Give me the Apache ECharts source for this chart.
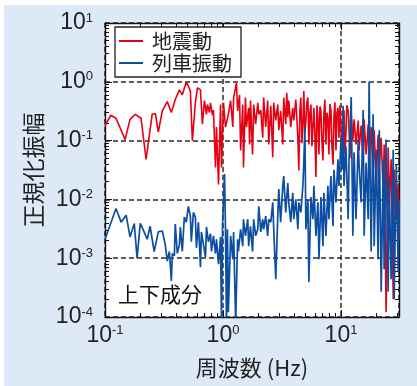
<!DOCTYPE html>
<html>
<head>
<meta charset="utf-8">
<script src="https://cdn.jsdelivr.net/npm/echarts@6/dist/echarts.min.js"></script>
<style>
  html, body { margin: 0; padding: 0; background: #fff; }
  #wrap { position: relative; width: 417px; height: 386px; }
  #bg { position: absolute; left: 4px; top: 5px; right: 0; bottom: 0; background: #dde9f6; }
  #chart { position: absolute; left: 0; top: 0; width: 417px; height: 386px; }
</style>
</head>
<body>
<div id="wrap"><div id="bg"></div><div id="chart"></div></div>
<script>
// 地震動 (earthquake) spectrum
const quakeFreq = [
  0.100, 0.112, 0.124, 0.148, 0.163, 0.180, 0.202, 0.223, 0.251, 0.267,
  0.283, 0.306, 0.337, 0.365, 0.394, 0.427, 0.452, 0.489, 0.529, 0.550,
  0.583, 0.607, 0.644, 0.669, 0.696, 0.724, 0.738, 0.768, 0.783, 0.814,
  0.830, 0.863, 0.881, 0.916, 0.953, 0.971, 1.01, 1.05, 1.11, 1.16,
  1.21, 1.23, 1.30, 1.33, 1.38, 1.41, 1.47, 1.49, 1.55, 1.58,
  1.65, 1.68, 1.71, 1.78, 1.82, 1.89, 1.97, 2.01, 2.09, 2.17,
  2.21, 2.30, 2.39, 2.44, 2.54, 2.64, 2.69, 2.80, 2.91, 2.97,
  3.08, 3.21, 3.27, 3.40, 3.47, 3.54, 3.61, 3.75, 3.90, 3.98,
  4.14, 4.31, 4.39, 4.48,
  4.57, 4.66, 4.75, 4.84, 4.94, 5.04, 5.14, 5.24, 5.34, 5.45,
  5.56, 5.67, 5.78, 5.89, 6.01, 6.13, 6.25, 6.37, 6.50, 6.63,
  6.76, 6.90, 7.03, 7.16, 7.30, 7.45, 7.60, 7.74, 7.90, 8.06,
  8.22, 8.38, 8.55, 8.71, 8.88, 9.06, 9.24, 9.42, 9.61, 9.80,
  10.0, 10.2, 10.4, 10.6, 10.8, 11.0, 11.2, 11.5, 11.7, 11.9,
  12.2, 12.6, 12.9, 13.4, 14.0, 14.2,
  14.8, 15.4, 15.7, 16.3, 17.0, 17.3, 18.0, 18.7, 19.1, 19.9,
  20.6, 21.1, 21.9, 22.8, 23.2, 24.1, 25.1, 25.6, 26.6, 27.7,
  28.2, 29.4, 30.5, 31.2
];
const quakeAmp = [
  0.18, 0.27, 0.24, 0.104, 0.23, 0.28, 0.24, 0.048, 0.28, 0.29,
  0.14, 0.32, 0.46, 0.30, 0.50, 0.73, 0.60, 1.0, 0.70, 0.10,
  0.44, 0.79, 0.73, 0.19, 0.48, 0.28, 0.41, 0.30, 0.44, 0.27,
  0.33, 0.035, 0.17, 0.018, 0.41, 0.035, 0.44, 0.17, 0.28, 0.48,
  0.17, 0.54, 0.96, 0.32, 0.60, 0.068, 0.41, 0.035, 0.54, 0.17,
  0.36, 0.086, 0.48, 0.058, 0.41, 0.19, 0.44, 0.28, 0.33, 0.112,
  0.54, 0.17, 0.48, 0.086, 0.39, 0.052, 0.44, 0.22, 0.41, 0.15,
  0.32, 0.086, 0.54, 0.19, 0.65, 0.25, 0.48, 0.17, 0.36, 0.22,
  0.50, 0.112, 0.031, 0.32,
  0.54, 0.09, 0.17, 0.70, 0.13, 0.22, 0.45, 0.54, 0.086, 0.30,
  0.41, 0.08, 0.17, 0.36, 0.12, 0.024, 0.40, 0.25, 0.058, 0.38,
  0.32, 0.09, 0.046, 0.28, 0.50, 0.086, 0.30, 0.25, 0.058, 0.42,
  0.32, 0.08, 0.039, 0.25, 0.45, 0.068, 0.30, 0.36, 0.112, 0.40,
  0.41, 0.07, 0.17, 0.33, 0.06, 0.126, 0.40, 0.32, 0.15, 0.05,
  0.28, 0.10, 0.23, 0.086, 0.22, 0.068,
  0.18, 0.046, 0.23, 0.058, 0.19, 0.039, 0.17, 0.024, 0.15, 0.018,
  0.126, 0.039, 0.112, 0.012, 0.086, 0.00012, 0.076, 0.0082, 0.048, 0.0002,
  0.032, 0.0046, 0.018, 0.0021
];

// 列車振動 (train) spectrum
const trainFreq = [
  0.100, 0.124, 0.137, 0.151, 0.163, 0.177, 0.187, 0.199, 0.210, 0.228,
  0.241, 0.261, 0.283, 0.306, 0.324, 0.337, 0.351, 0.365, 0.372, 0.387,
  0.394, 0.410, 0.427, 0.435, 0.452, 0.470, 0.489, 0.508, 0.529, 0.539,
  0.561, 0.583, 0.595, 0.619, 0.644, 0.656, 0.682, 0.710, 0.724, 0.753,
  0.783, 0.798, 0.830, 0.863, 0.881, 0.916, 0.953, 0.971, 0.991, 1.03,
  1.05, 1.07, 1.09, 1.11, 1.16, 1.21, 1.23, 1.28, 1.33, 1.35,
  1.41, 1.47, 1.49, 1.55, 1.62, 1.65, 1.71, 1.78, 1.82, 1.89,
  1.97, 2.01, 2.09, 2.17, 2.21, 2.30, 2.39, 2.44, 2.54, 2.64,
  2.69, 2.80, 2.91, 2.97, 3.08, 3.21, 3.27, 3.40, 3.54, 3.61,
  3.75, 3.90, 3.98, 4.14, 4.31, 4.39, 4.57, 4.75, 4.84, 4.94,
  5.04, 5.24, 5.34, 5.56, 5.78, 5.89, 6.13, 6.37, 6.50, 6.76,
  7.03, 7.16, 7.45, 7.74, 7.90, 8.22, 8.55, 8.71, 9.06, 9.42,
  9.61, 10.0, 10.2, 10.4, 10.6, 11.0, 11.5, 11.7, 12.2, 12.6,
  12.9, 13.4, 14.0, 14.2, 14.8, 15.4, 15.7, 16.3, 17.0, 17.3,
  17.7, 18.0, 18.7, 19.1, 19.9, 20.6, 21.1, 21.9, 22.8, 23.2,
  24.1, 25.1, 25.6, 26.6, 27.7, 28.2, 29.4, 30.5, 31.2
];
const trainAmp = [
  0.0021, 0.0070, 0.0041, 0.0054, 0.0023, 0.0039, 0.0010, 0.0039, 0.0031, 0.0021,
  0.0035, 0.0013, 0.0028, 0.0029, 0.0017, 0.00089, 0.0013, 0.00041, 0.0012, 0.0011,
  0.0038, 0.0012, 0.0017, 0.0034, 0.0013, 0.0050, 0.0041, 0.0076, 0.0052, 0.0019,
  0.0060, 0.0050, 0.0015, 0.0041, 0.00070, 0.0028, 0.0026, 0.00104, 0.0034, 0.0019,
  0.0026, 0.0013, 0.0024, 0.0012, 0.0021, 0.00079, 0.0023, 0.00008, 0.0038, 0.027,
  0.0029, 0.00008, 0.0031, 0.00012, 0.0024, 0.00096, 0.0028, 0.00008, 0.0021, 0.0013,
  0.0031, 0.0016, 0.0046, 0.0024, 0.0046, 0.0016, 0.0035, 0.0013, 0.0046, 0.0024,
  0.0031, 0.0076, 0.0028, 0.0046, 0.0031, 0.0052, 0.0024, 0.0046, 0.0041, 0.0089,
  0.0031, 0.00044, 0.0052, 0.015, 0.0041, 0.017, 0.025, 0.0060, 0.019, 0.0089,
  0.0041, 0.013, 0.0046, 0.010, 0.0031, 0.0089, 0.0060, 0.017, 0.042, 0.17,
  0.0031, 0.010, 0.00039, 0.011, 0.0046, 0.017, 0.0024, 0.0089, 0.00096, 0.011,
  0.0016, 0.013, 0.0024, 0.017, 0.0046, 0.025, 0.0035, 0.032, 0.0089, 0.048,
  0.017, 0.104, 0.032, 0.39, 0.017, 0.080, 0.0046, 0.048, 0.55, 0.0024,
  0.063, 0.0046, 0.104, 0.042, 0.0089, 0.33, 0.0024, 0.042, 0.0046, 1.0,
  0.017, 0.0013, 0.28, 0.0016, 0.070, 0.00096, 0.15, 0.00027, 0.048, 0.00065,
  0.104, 0.00027, 0.022, 0.00044, 0.070, 0.00020, 0.039, 0.00058, 0.010
];

const xMin = 0.1, xMax = 31;
const yMin = 1e-4, yMax = 10;

const numFont = '"Liberation Sans Narrow", "Liberation Sans", Arial, sans-serif';
const jpFont = '"Noto Sans CJK JP", sans-serif';
const ink = '#222';

// 10^n labels, blank for the non-decade axis end (31 Hz)
function powLabel(v) {
  const lg = Math.log10(v);
  const e = Math.round(lg);
  if (Math.abs(lg - e) > 0.01) return '';
  return '{b|10}{s|' + e + '}';
}
const labelRich = {
  b: { fontSize: 23, fontFamily: numFont, color: ink },
  s: { fontSize: 13, fontFamily: numFont, color: ink, verticalAlign: 'top' }
};

const axisLine = { show: true, onZero: false, lineStyle: { color: '#111', width: 1.4 } };
const dashed = { show: true, lineStyle: { color: '#2a2a2a', width: 1.5, type: [5, 3] } };

function logAxis(extra) {
  return Object.assign({
    type: 'log',
    logBase: 10,
    axisLine: axisLine,
    axisTick: { show: true, inside: true, length: 7, lineStyle: { color: '#111', width: 1 } },
    minorTick: { show: true, splitNumber: 9, length: 4, lineStyle: { color: '#111', width: 1 } },
    splitLine: { show: false },
    axisLabel: { show: false }
  }, extra);
}

const chart = echarts.init(document.getElementById('chart'));

const option = {
  animation: false,
  grid: {
    left: 105, top: 23, right: 18, bottom: 69,
    show: true, backgroundColor: '#fff', borderWidth: 0
  },
  legend: {
    left: 115, top: 27,
    orient: 'vertical',
    itemWidth: 24, itemHeight: 2, itemGap: 2,
    padding: [4, 9, 4, 4],
    backgroundColor: '#fff',
    borderColor: '#222', borderWidth: 1.3,
    textStyle: { fontSize: 20, fontFamily: jpFont, color: ink, padding: [0, 0, 0, 4] },
    data: [
      { name: '地震動', icon: 'rect' },
      { name: '列車振動', icon: 'rect' }
    ],
    z: 20
  },
  xAxis: [
    logAxis({
      position: 'bottom', min: xMin, max: xMax,
      splitLine: dashed,
      axisLabel: { show: true, margin: 7, formatter: powLabel, rich: labelRich },
      name: '周波数 (Hz)', nameLocation: 'middle', nameGap: 40,
      nameTextStyle: { fontSize: 22, fontFamily: jpFont, color: ink }
    }),
    logAxis({ position: 'top', min: xMin, max: xMax })
  ],
  yAxis: [
    logAxis({
      position: 'left', min: yMin, max: yMax,
      splitLine: dashed,
      axisLabel: { show: true, margin: 12, formatter: powLabel, rich: labelRich },
      name: '正規化振幅', nameLocation: 'middle', nameGap: 58, nameRotate: 90,
      nameTextStyle: { fontSize: 23, fontFamily: jpFont, color: ink }
    }),
    logAxis({ position: 'right', min: yMin, max: yMax })
  ],
  graphic: [{
    type: 'text', left: 118, top: 284, z: 50,
    style: { text: '上下成分', fontSize: 21, fontFamily: jpFont, fill: '#111' }
  }],
  series: [
    {
      name: '地震動', type: 'line', xAxisIndex: 0, yAxisIndex: 0,
      showSymbol: false, symbol: 'none',
      color: '#e60012',
      lineStyle: { width: 1.6, color: '#e60012' },
      data: quakeFreq.map((f, i) => [f, quakeAmp[i]])
    },
    {
      name: '列車振動', type: 'line', xAxisIndex: 0, yAxisIndex: 0,
      showSymbol: false, symbol: 'none',
      color: '#0b4ea2',
      lineStyle: { width: 1.7, color: '#0b4ea2' },
      data: trainFreq.map((f, i) => [f, trainAmp[i]])
    }
  ]
};

chart.setOption(option);
</script>
</body>
</html>
